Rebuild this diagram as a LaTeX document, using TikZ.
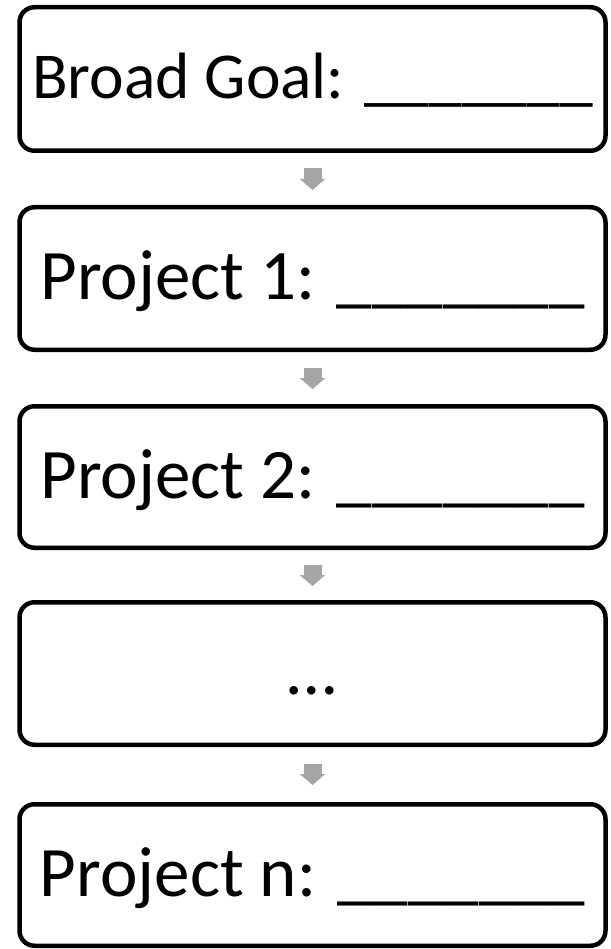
\documentclass[tikz,border=0pt]{standalone}
\usepackage{fontspec}
\setmainfont{Carlito}
\usetikzlibrary{arrows.meta}
\definecolor{arrowgray}{HTML}{A5A5A5}
\tikzset{
  stagebox/.style={draw=black, line width=4.5pt, rounded corners=15pt, fill=white,
    minimum width=586pt, inner sep=0pt, align=center, text depth=0pt},
  flowarrow/.style={draw=arrowgray, line width=18pt,
    -{Triangle[width=25pt,length=11pt]}, arrowgray},
}
\begin{document}
\begin{tikzpicture}[x=1pt,y=1pt]
\useasboundingbox (0,0) rectangle (610,-949);
\node[stagebox, minimum height=143.5pt, text height=38.5pt, font=\fontsize{65.5}{80}\selectfont] (b1) at (312.5,-79) {Broad Goal: \_\_\_\_\_\_\_};
\node[stagebox, minimum height=142.5pt, text height=42pt, font=\fontsize{71}{84}\selectfont] (b2) at (312.5,-278.5) {Project 1: \_\_\_\_\_\_\_};
\node[stagebox, minimum height=141.5pt, text height=42pt, font=\fontsize{71}{84}\selectfont] (b3) at (312.5,-477) {Project 2: \_\_\_\_\_\_\_};
\node[stagebox, minimum height=142.5pt, text height=42pt, font=\fontsize{71}{84}\selectfont] (b4) at (312.5,-673.5) {…};
\node[stagebox, minimum height=141.5pt, text height=42pt, font=\fontsize{71}{84}\selectfont] (b5) at (312.5,-875) {Project n: \_\_\_\_\_\_\_};
\draw[flowarrow, shorten <=15.5pt, shorten >=15pt] (b1.south) -- (b2.north);
\draw[flowarrow, shorten <=15.5pt, shorten >=15pt] (b2.south) -- (b3.north);
\draw[flowarrow, shorten <=14.5pt, shorten >=14pt] (b3.south) -- (b4.north);
\draw[flowarrow, shorten <=16.5pt, shorten >=17pt] (b4.south) -- (b5.north);
\end{tikzpicture}
\end{document}
